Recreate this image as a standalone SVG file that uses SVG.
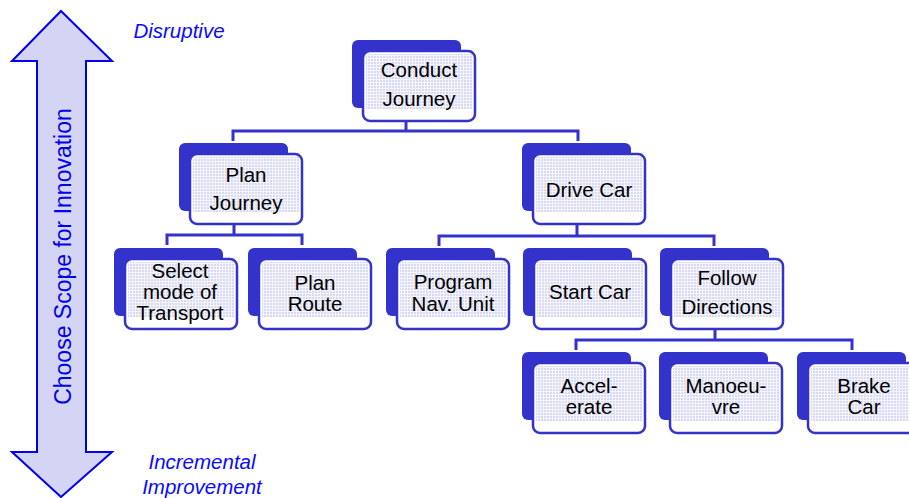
<svg xmlns="http://www.w3.org/2000/svg" width="909" height="498" viewBox="0 0 909 498">
<defs>
<pattern id="dots" width="3" height="3" patternUnits="userSpaceOnUse">
<rect width="3" height="3" fill="#f4f4fc"/>
<rect width="2" height="2" fill="#d9d9f2"/>
</pattern>
<style>
.back{fill:#3333cc;}
.front{fill:#ffffff;stroke:#3333cc;stroke-width:2.5;}
.pat{fill:url(#dots);}
.lbl{font-family:"Liberation Sans",Arial,sans-serif;font-size:20.5px;fill:#000000;text-anchor:middle;}
.conn{fill:none;stroke:#3333cc;stroke-width:3;}
.side{font-family:"Liberation Sans",Arial,sans-serif;font-size:20.5px;font-style:italic;fill:#0a0aff;text-anchor:middle;}
</style>
</defs>
<rect width="909" height="498" fill="#ffffff"/>

<g id="scope-arrow">
<polygon points="61,11 112,61 86,61 86,452 112,452 61,497 12,452 37,452 37,61 12,61" fill="#d4d4f4" stroke="#0000ee" stroke-width="2"/>
<text transform="translate(71,256.5) rotate(-90)" font-family="Liberation Sans, Arial, sans-serif" font-size="23" fill="#0000ee" text-anchor="middle">Choose Scope for Innovation</text>
</g>
<text class="side" x="179" y="38">Disruptive</text>
<text class="side" x="202" y="469">Incremental</text>
<text class="side" x="202" y="494">Improvement</text>

<g id="connectors">
<path class="conn" d="M406,122 V131 M233,141 V131 H578 V141"/>
<path class="conn" d="M234,225 V235 M167,245 V235 H302 V245"/>
<path class="conn" d="M577,225 V236 M439,246 V236 H714 V246"/>
<path class="conn" d="M715,330 V340 M576,350 V340 H852 V350"/>
</g>

<g id="conduct-journey" transform="translate(362,50)">
<rect class="back" x="-10" y="-10" width="109" height="68" rx="6"/>
<rect class="front" x="1" y="1" width="112" height="70" rx="7"/>
<rect class="pat" x="4" y="4" width="106" height="55"/>
<text class="lbl" x="57" y="27">Conduct</text>
<text class="lbl" x="57" y="56">Journey</text>
</g>

<g id="plan-journey" transform="translate(189,153)">
<rect class="back" x="-10" y="-10" width="109" height="68" rx="6"/>
<rect class="front" x="1" y="1" width="112" height="70" rx="7"/>
<rect class="pat" x="4" y="4" width="106" height="55"/>
<text class="lbl" x="57" y="29">Plan</text>
<text class="lbl" x="57" y="57">Journey</text>
</g>

<g id="drive-car" transform="translate(532,153)">
<rect class="back" x="-10" y="-10" width="109" height="68" rx="6"/>
<rect class="front" x="1" y="1" width="112" height="70" rx="7"/>
<rect class="pat" x="4" y="4" width="106" height="55"/>
<text class="lbl" x="57" y="44">Drive Car</text>
</g>

<g id="select-mode" transform="translate(124,258)">
<rect class="back" x="-10" y="-10" width="109" height="68" rx="6"/>
<rect class="front" x="1" y="1" width="112" height="70" rx="7"/>
<rect class="pat" x="4" y="4" width="106" height="55"/>
<text class="lbl" x="56" y="20">Select</text>
<text class="lbl" x="56" y="41">mode of</text>
<text class="lbl" x="56" y="62">Transport</text>
</g>

<g id="plan-route" transform="translate(258,258)">
<rect class="back" x="-10" y="-10" width="109" height="68" rx="6"/>
<rect class="front" x="1" y="1" width="112" height="70" rx="7"/>
<rect class="pat" x="4" y="4" width="106" height="55"/>
<text class="lbl" x="57" y="32">Plan</text>
<text class="lbl" x="57" y="53">Route</text>
</g>

<g id="program-nav" transform="translate(396,258)">
<rect class="back" x="-10" y="-10" width="109" height="68" rx="6"/>
<rect class="front" x="1" y="1" width="112" height="70" rx="7"/>
<rect class="pat" x="4" y="4" width="106" height="55"/>
<text class="lbl" x="57" y="31">Program</text>
<text class="lbl" x="57" y="53">Nav. Unit</text>
</g>

<g id="start-car" transform="translate(533,258)">
<rect class="back" x="-10" y="-10" width="109" height="68" rx="6"/>
<rect class="front" x="1" y="1" width="112" height="70" rx="7"/>
<rect class="pat" x="4" y="4" width="106" height="55"/>
<text class="lbl" x="57" y="41">Start Car</text>
</g>

<g id="follow-directions" transform="translate(670,258)">
<rect class="back" x="-10" y="-10" width="109" height="68" rx="6"/>
<rect class="front" x="1" y="1" width="112" height="70" rx="7"/>
<rect class="pat" x="4" y="4" width="106" height="55"/>
<text class="lbl" x="57" y="27">Follow</text>
<text class="lbl" x="57" y="56">Directions</text>
</g>

<g id="accelerate" transform="translate(532,362)">
<rect class="back" x="-10" y="-10" width="109" height="68" rx="6"/>
<rect class="front" x="1" y="1" width="112" height="70" rx="7"/>
<rect class="pat" x="4" y="4" width="106" height="55"/>
<text class="lbl" x="57" y="31">Accel-</text>
<text class="lbl" x="57" y="52">erate</text>
</g>

<g id="manoeuvre" transform="translate(669,362)">
<rect class="back" x="-10" y="-10" width="109" height="68" rx="6"/>
<rect class="front" x="1" y="1" width="112" height="70" rx="7"/>
<rect class="pat" x="4" y="4" width="106" height="55"/>
<text class="lbl" x="57" y="31">Manoeu-</text>
<text class="lbl" x="57" y="52">vre</text>
</g>

<g id="brake-car" transform="translate(807,362)">
<rect class="back" x="-10" y="-10" width="109" height="68" rx="6"/>
<rect class="front" x="1" y="1" width="112" height="70" rx="7"/>
<rect class="pat" x="4" y="4" width="106" height="55"/>
<text class="lbl" x="57" y="31">Brake</text>
<text class="lbl" x="57" y="52">Car</text>
</g>
</svg>
